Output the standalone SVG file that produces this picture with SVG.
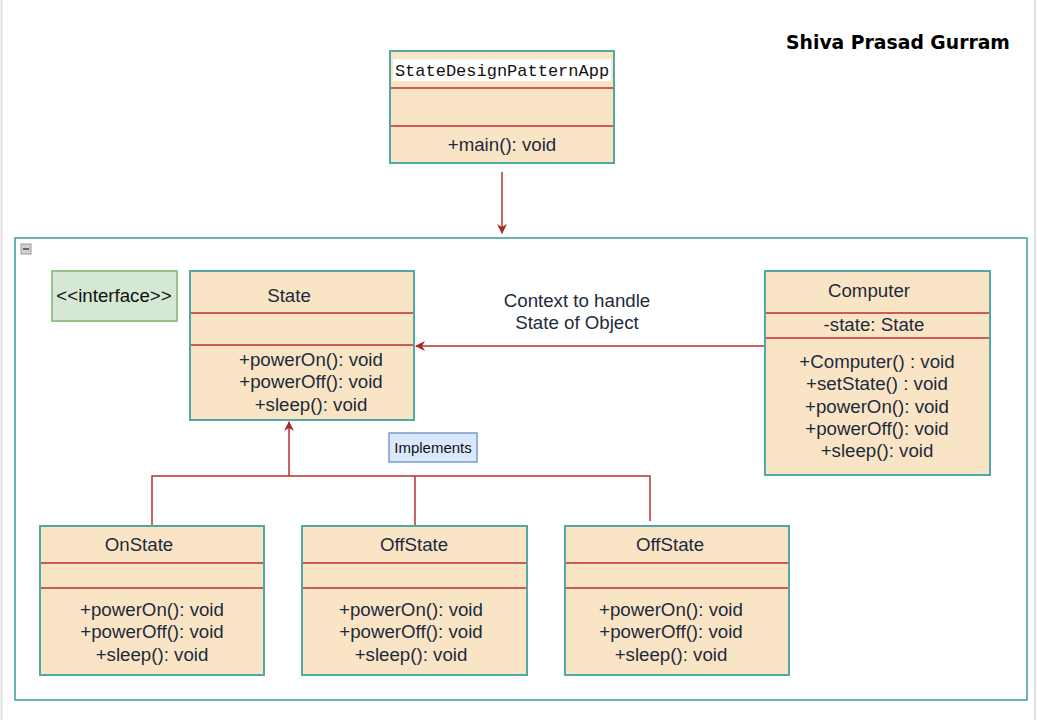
<svg xmlns="http://www.w3.org/2000/svg" width="1037" height="720" viewBox="0 0 1037 720">
<defs>
<style>
.cls{fill:#fae4c6;stroke:#52a8a2;stroke-width:2}
.div{stroke:#b8312d;stroke-width:1.5}
.t{font-family:"Liberation Sans",Arial,sans-serif;font-size:18.7px;fill:#1c2b3a;text-anchor:middle}
.mono{font-family:"Liberation Mono","DejaVu Sans Mono",monospace;font-size:17px;fill:#111;text-anchor:middle}
.edge{stroke:#b8312d;stroke-width:1.5;fill:none}
</style>
<marker id="ah" viewBox="0 0 10 10" refX="9" refY="5" markerWidth="10" markerHeight="10" markerUnits="userSpaceOnUse" orient="auto">
<path d="M0,0 L10,5 L0,10 L3,5 Z" fill="#a82a26"/>
</marker>
</defs>
<rect width="1037" height="720" fill="#fff"/>
<line x1="1.5" y1="0" x2="1.5" y2="720" stroke="#e3e3e3" stroke-width="2"/>
<line x1="1035" y1="0" x2="1035" y2="720" stroke="#e3e3e3" stroke-width="2"/>

<text x="898" y="49" font-family="'DejaVu Sans',Verdana,sans-serif" font-size="18.8" font-weight="bold" fill="#000" text-anchor="middle">Shiva Prasad Gurram</text>

<g id="container">
<rect x="15" y="238" width="1012" height="462" fill="none" stroke="#3a9d98" stroke-width="1.5"/>
<rect x="21" y="244" width="10" height="10" fill="#d0d0d0" stroke="#9a9a9a" stroke-width="1"/>
<line x1="23" y1="249" x2="29" y2="249" stroke="#444" stroke-width="1.5"/>
</g>

<g id="connectors">
<line class="edge" x1="502" y1="172" x2="502" y2="233" marker-end="url(#ah)"/>
<line class="edge" x1="765" y1="346" x2="416" y2="346" marker-end="url(#ah)"/>
<line class="edge" x1="289" y1="476" x2="289" y2="422" marker-end="url(#ah)"/>
<polyline class="edge" points="152,526 152,476 650,476 650,521"/>
<line class="edge" x1="415" y1="476" x2="415" y2="526"/>
</g>

<g id="app">
<rect class="cls" x="390" y="51" width="224" height="112"/>
<rect x="393" y="59" width="218" height="22" fill="#fff"/>
<text class="mono" x="502" y="76">StateDesignPatternApp</text>
<line class="div" x1="391" y1="88" x2="613" y2="88"/>
<line class="div" x1="391" y1="126" x2="613" y2="126"/>
<text class="t" x="502" y="151">+main(): void</text>
</g>

<g id="interface">
<rect x="52" y="271" width="125" height="50" fill="#d5e8d4" stroke="#96c48a" stroke-width="2"/>
<text x="114" y="302" font-family="'Liberation Sans',Arial,sans-serif" font-size="18.7" fill="#111" text-anchor="middle">&lt;&lt;interface&gt;&gt;</text>
</g>

<g id="state">
<rect class="cls" x="190" y="271" width="224" height="149"/>
<text class="t" x="289" y="302">State</text>
<line class="div" x1="191" y1="313" x2="413" y2="313"/>
<line class="div" x1="191" y1="345" x2="413" y2="345"/>
<text class="t" x="311" y="366">+powerOn(): void</text>
<text class="t" x="311" y="388">+powerOff(): void</text>
<text class="t" x="311" y="411">+sleep(): void</text>
</g>

<g id="context-label">
<text class="t" x="577" y="307">Context to handle</text>
<text class="t" x="577" y="329">State of Object</text>
</g>

<g id="computer">
<rect class="cls" x="765" y="271" width="225" height="204"/>
<text class="t" x="869" y="297">Computer</text>
<line class="div" x1="766" y1="313" x2="989" y2="313"/>
<text class="t" x="874" y="331">-state: State</text>
<line class="div" x1="766" y1="338" x2="989" y2="338"/>
<text class="t" x="877" y="368">+Computer() : void</text>
<text class="t" x="877" y="390">+setState() : void</text>
<text class="t" x="877" y="413">+powerOn(): void</text>
<text class="t" x="877" y="435">+powerOff(): void</text>
<text class="t" x="877" y="457">+sleep(): void</text>
</g>

<g id="implements">
<rect x="389" y="433" width="88" height="29" fill="#dae8fc" stroke="#7a9acb" stroke-width="1.5"/>
<text x="433" y="453" font-family="'Liberation Sans',Arial,sans-serif" font-size="15" fill="#111" text-anchor="middle">Implements</text>
</g>

<g id="onstate">
<rect class="cls" x="40" y="526" width="224" height="149"/>
<text class="t" x="139" y="551">OnState</text>
<line class="div" x1="41" y1="563" x2="263" y2="563"/>
<line class="div" x1="41" y1="588" x2="263" y2="588"/>
<text class="t" x="152" y="616">+powerOn(): void</text>
<text class="t" x="152" y="638">+powerOff(): void</text>
<text class="t" x="152" y="661">+sleep(): void</text>
</g>

<g id="offstate1">
<rect class="cls" x="302" y="526" width="225" height="149"/>
<text class="t" x="414" y="551">OffState</text>
<line class="div" x1="303" y1="563" x2="526" y2="563"/>
<line class="div" x1="303" y1="588" x2="526" y2="588"/>
<text class="t" x="411" y="616">+powerOn(): void</text>
<text class="t" x="411" y="638">+powerOff(): void</text>
<text class="t" x="411" y="661">+sleep(): void</text>
</g>

<g id="offstate2">
<rect class="cls" x="565" y="526" width="224" height="149"/>
<text class="t" x="670" y="551">OffState</text>
<line class="div" x1="566" y1="563" x2="788" y2="563"/>
<line class="div" x1="566" y1="588" x2="788" y2="588"/>
<text class="t" x="671" y="616">+powerOn(): void</text>
<text class="t" x="671" y="638">+powerOff(): void</text>
<text class="t" x="671" y="661">+sleep(): void</text>
</g>
</svg>
